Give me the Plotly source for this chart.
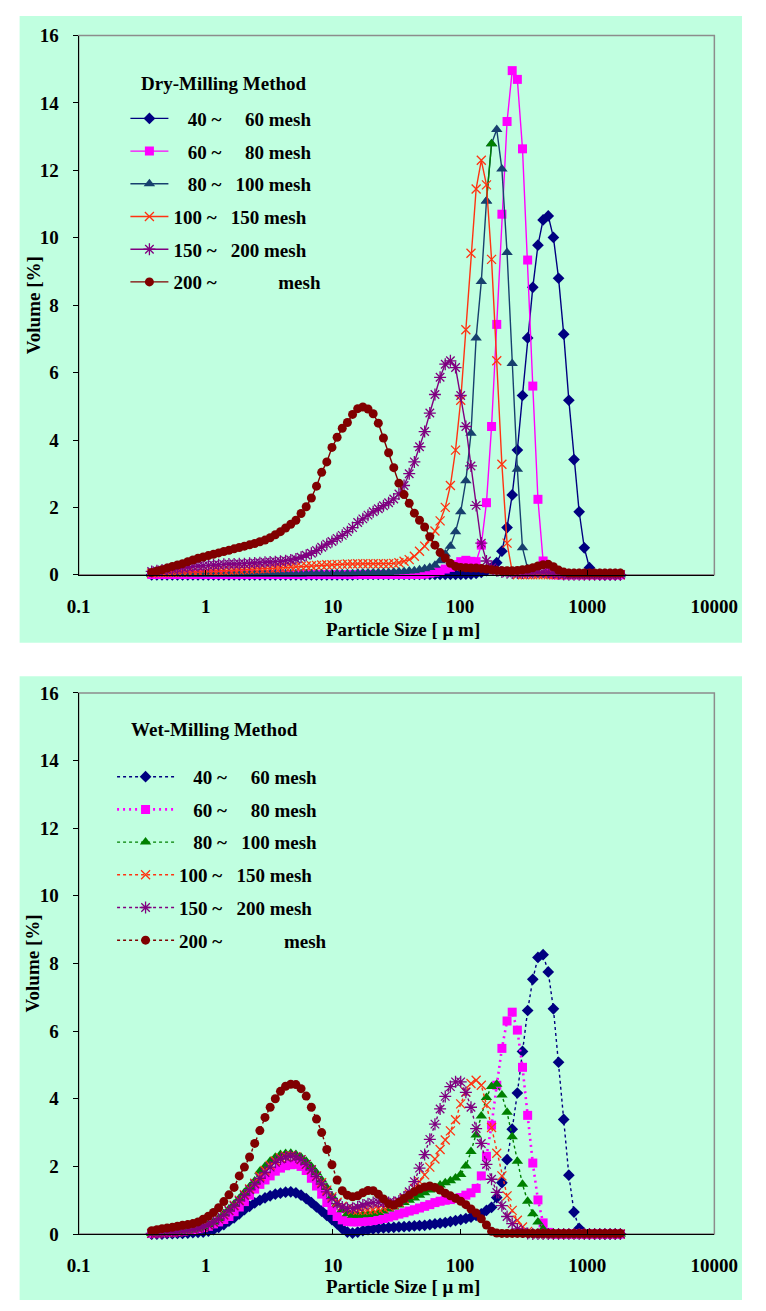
import plotly.graph_objects as go

# ---------------- data ----------------
sizes = [0.375, 0.412, 0.452, 0.496, 0.545, 0.598, 0.656, 0.721, 0.791, 0.868,
         0.953, 1.047, 1.149, 1.261, 1.385, 1.520, 1.669, 1.832, 2.011, 2.208,
         2.423, 2.660, 2.920, 3.206, 3.519, 3.863, 4.241, 4.656, 5.111, 5.611,
         6.159, 6.761, 7.422, 8.148, 8.944, 9.819, 10.78, 11.83, 12.99, 14.26,
         15.65, 17.18, 18.86, 20.71, 22.73, 24.95, 27.39, 30.07, 33.01, 36.24,
         39.78, 43.67, 47.94, 52.62, 57.77, 63.41, 69.61, 76.42, 83.89, 92.09,
         101.1, 111.0, 121.8, 133.7, 146.8, 161.2, 176.8, 194.2, 213.2, 234.1,
         256.9, 282.1, 309.6, 339.9, 373.1, 409.6, 449.7, 493.6, 541.9, 594.9,
         653.0, 716.8, 786.9, 863.9, 948.3, 1041, 1143, 1255, 1377, 1512,
         1660, 1822]

# Dry-milling method
dry_40_60 = [0, 0, 0, 0, 0, 0, 0, 0, 0, 0,
             0, 0, 0, 0, 0, 0, 0, 0, 0, 0,
             0, 0, 0, 0, 0, 0, 0, 0, 0, 0,
             0, 0, 0, 0, 0, 0, 0, 0, 0, 0,
             0.01, 0.01, 0.01, 0.01, 0.01, 0.01, 0.01, 0.01, 0.01, 0.01,
             0.01, 0.01, 0.01, 0.01, 0.01, 0.01, 0.01, 0.01, 0.01, 0.01,
             0.01, 0.02, 0.02, 0.04, 0.07, 0.12, 0.21, 0.36, 0.70, 1.40,
             2.37, 3.70, 5.32, 7.03, 8.53, 9.78, 10.53, 10.65, 10.01, 8.80,
             7.14, 5.18, 3.42, 1.87, 0.80, 0.21, 0.02, 0, 0, 0,
             0, 0]
dry_60_80 = [0.01, 0.01, 0.01, 0.01, 0.01, 0.01, 0.01, 0.01, 0.01, 0.01,
             0.01, 0.01, 0.01, 0.01, 0.01, 0.01, 0.01, 0.01, 0.01, 0.01,
             0.01, 0.01, 0.01, 0.01, 0.01, 0.01, 0.01, 0.01, 0.01, 0.01,
             0.01, 0.01, 0.01, 0.01, 0.01, 0.01, 0.01, 0.01, 0.01, 0.01,
             0.01, 0.01, 0.01, 0.01, 0.01, 0.01, 0.01, 0.01, 0.01, 0.01,
             0.01, 0.01, 0.01, 0.02, 0.05, 0.08, 0.12, 0.17, 0.22, 0.30,
             0.39, 0.43, 0.40, 0.39, 0.88, 2.14, 4.40, 7.43, 10.70, 13.45,
             14.96, 14.70, 12.64, 9.34, 5.60, 2.24, 0.41, 0.05, 0, 0,
             0, 0, 0, 0, 0, 0, 0, 0, 0, 0,
             0, 0]
dry_80_100 = [0.01, 0.01, 0.01, 0.01, 0.01, 0.01, 0.01, 0.01, 0.01, 0.01,
              0.02, 0.02, 0.02, 0.02, 0.02, 0.02, 0.02, 0.02, 0.02, 0.02,
              0.02, 0.02, 0.02, 0.02, 0.02, 0.02, 0.02, 0.02, 0.02, 0.02,
              0.03, 0.03, 0.03, 0.03, 0.03, 0.03, 0.03, 0.03, 0.03, 0.03,
              0.04, 0.05, 0.05, 0.06, 0.06, 0.07, 0.07, 0.08, 0.09, 0.10,
              0.11, 0.12, 0.15, 0.18, 0.22, 0.28, 0.42, 0.62, 0.85, 1.28,
              1.87, 2.79, 4.20, 7.03, 8.70, 11.09, 12.79, 13.21, 12.04, 9.56,
              6.27, 3.13, 0.80, 0.18, 0.02, 0, 0, 0, 0, 0,
              0, 0, 0, 0, 0, 0, 0, 0, 0, 0,
              0, 0]
dry_100_150 = [0.05, 0.06, 0.06, 0.07, 0.07, 0.08, 0.08, 0.09, 0.10, 0.10,
               0.11, 0.11, 0.12, 0.12, 0.13, 0.14, 0.14, 0.15, 0.16, 0.16,
               0.17, 0.18, 0.18, 0.19, 0.20, 0.21, 0.22, 0.23, 0.24, 0.25,
               0.26, 0.27, 0.28, 0.29, 0.30, 0.30, 0.31, 0.31, 0.32, 0.32,
               0.33, 0.33, 0.33, 0.33, 0.33, 0.33, 0.33, 0.34, 0.36, 0.40,
               0.45, 0.55, 0.70, 0.85, 1.05, 1.30, 1.60, 2.00, 2.65, 3.70,
               5.18, 7.27, 9.54, 11.45, 12.30, 11.57, 9.36, 6.35, 3.28, 0.94,
               0.10, 0, 0, 0, 0, 0, 0, 0, 0, 0,
               0, 0, 0, 0, 0, 0, 0, 0, 0, 0,
               0, 0]
dry_150_200 = [0.10, 0.12, 0.14, 0.16, 0.18, 0.19, 0.21, 0.23, 0.25, 0.26,
               0.27, 0.28, 0.29, 0.30, 0.31, 0.32, 0.32, 0.33, 0.33, 0.34,
               0.35, 0.36, 0.37, 0.38, 0.39, 0.40, 0.42, 0.44, 0.47, 0.52,
               0.58, 0.64, 0.72, 0.82, 0.91, 0.99, 1.08, 1.17, 1.28, 1.40,
               1.55, 1.66, 1.77, 1.87, 1.96, 2.05, 2.14, 2.25, 2.40, 2.65,
               3.00, 3.35, 3.80, 4.25, 4.80, 5.35, 5.86, 6.25, 6.35, 6.15,
               5.32, 4.40, 3.23, 2.06, 0.94, 0.41, 0.21, 0.12, 0.08, 0.06,
               0.05, 0.05, 0.05, 0.06, 0.07, 0.08, 0.08, 0.07, 0.05, 0.03,
               0.01, 0, 0, 0, 0, 0, 0, 0, 0, 0,
               0, 0]
dry_200 = [0.07, 0.11, 0.15, 0.20, 0.25, 0.29, 0.33, 0.39, 0.44, 0.49,
           0.53, 0.57, 0.61, 0.65, 0.69, 0.73, 0.77, 0.81, 0.85, 0.89,
           0.93, 0.98, 1.03, 1.10, 1.19, 1.28, 1.39, 1.50, 1.62, 1.82,
           2.02, 2.28, 2.63, 3.04, 3.35, 3.78, 4.08, 4.35, 4.52, 4.76,
           4.93, 4.98, 4.92, 4.78, 4.50, 4.06, 3.62, 3.18, 2.72, 2.38,
           2.12, 1.83, 1.62, 1.42, 1.13, 0.88, 0.66, 0.50, 0.34, 0.25,
           0.22, 0.21, 0.20, 0.20, 0.19, 0.17, 0.15, 0.13, 0.12, 0.12,
           0.12, 0.13, 0.15, 0.17, 0.21, 0.26, 0.30, 0.31, 0.24, 0.14,
           0.08, 0.05, 0.05, 0.05, 0.05, 0.05, 0.05, 0.05, 0.05, 0.05,
           0.05, 0.05]

# Wet-milling method
wet_40_60 = [0, 0, 0, 0.01, 0.01, 0.02, 0.02, 0.03, 0.04, 0.05,
             0.06, 0.09, 0.13, 0.20, 0.28, 0.38, 0.48, 0.60, 0.72, 0.82,
             0.92, 1.00, 1.07, 1.13, 1.18, 1.21, 1.24, 1.25, 1.22, 1.15,
             1.05, 0.93, 0.80, 0.68, 0.55, 0.43, 0.30, 0.16, 0.06, 0.03,
             0.06, 0.10, 0.13, 0.15, 0.17, 0.18, 0.19, 0.20, 0.21, 0.22,
             0.23, 0.24, 0.25, 0.26, 0.28, 0.30, 0.32, 0.34, 0.37, 0.40,
             0.43, 0.46, 0.50, 0.55, 0.60, 0.70, 0.79, 1.08, 1.52, 2.20,
             3.10, 4.17, 5.40, 6.61, 7.53, 8.18, 8.26, 7.75, 6.66, 5.08,
             3.39, 1.74, 0.65, 0.17, 0.02, 0, 0, 0, 0, 0,
             0, 0]
wet_60_80 = [0.02, 0.03, 0.04, 0.05, 0.06, 0.07, 0.09, 0.11, 0.13, 0.16,
             0.19, 0.23, 0.30, 0.36, 0.43, 0.52, 0.66, 0.80, 0.96, 1.15,
             1.33, 1.47, 1.60, 1.72, 1.86, 1.95, 2.02, 2.05, 2.06, 2.00,
             1.88, 1.65, 1.42, 1.18, 0.93, 0.70, 0.52, 0.42, 0.37, 0.36,
             0.36, 0.37, 0.38, 0.40, 0.43, 0.46, 0.50, 0.54, 0.59, 0.63,
             0.68, 0.72, 0.77, 0.82, 0.87, 0.93, 0.97, 1.00, 1.02, 1.05,
             1.08, 1.15, 1.22, 1.35, 1.72, 2.30, 3.22, 4.40, 5.49, 6.30,
             6.56, 6.03, 4.93, 3.51, 2.10, 1.01, 0.33, 0.05, 0, 0,
             0, 0, 0, 0, 0, 0, 0, 0, 0, 0,
             0, 0]
wet_80_100 = [0.02, 0.03, 0.04, 0.05, 0.06, 0.07, 0.09, 0.11, 0.14, 0.17,
              0.21, 0.28, 0.36, 0.46, 0.60, 0.74, 0.89, 1.05, 1.23, 1.40,
              1.57, 1.86, 2.00, 2.15, 2.27, 2.35, 2.38, 2.39, 2.35, 2.27,
              2.15, 2.00, 1.81, 1.60, 1.38, 1.12, 0.89, 0.72, 0.60, 0.56,
              0.56, 0.57, 0.58, 0.61, 0.64, 0.68, 0.74, 0.80, 0.86, 0.93,
              1.00, 1.07, 1.15, 1.22, 1.30, 1.38, 1.45, 1.52, 1.58, 1.66,
              1.76, 2.01, 2.44, 2.93, 3.49, 4.04, 4.36, 4.43, 4.11, 3.60,
              2.88, 2.15, 1.47, 0.97, 0.60, 0.36, 0.15, 0.04, 0, 0,
              0, 0, 0, 0, 0, 0, 0, 0, 0, 0,
              0, 0]
wet_100_150 = [0.02, 0.03, 0.04, 0.05, 0.06, 0.07, 0.09, 0.11, 0.14, 0.17,
               0.21, 0.27, 0.35, 0.45, 0.57, 0.70, 0.85, 1.00, 1.16, 1.33,
               1.50, 1.70, 1.88, 2.03, 2.16, 2.25, 2.30, 2.32, 2.29, 2.20,
               2.06, 1.90, 1.72, 1.52, 1.30, 1.10, 0.94, 0.82, 0.75, 0.71,
               0.70, 0.70, 0.71, 0.72, 0.75, 0.78, 0.82, 0.88, 0.95, 1.05,
               1.18, 1.35, 1.55, 1.75, 1.98, 2.22, 2.50, 2.78, 3.05, 3.38,
               3.85, 4.20, 4.45, 4.55, 4.40, 3.82, 3.15, 2.39, 1.72, 1.13,
               0.70, 0.41, 0.21, 0.08, 0.02, 0, 0, 0, 0, 0,
               0, 0, 0, 0, 0, 0, 0, 0, 0, 0,
               0, 0]
wet_150_200 = [0.02, 0.03, 0.04, 0.05, 0.06, 0.07, 0.09, 0.11, 0.14, 0.17,
               0.21, 0.27, 0.35, 0.45, 0.56, 0.69, 0.83, 0.98, 1.14, 1.31,
               1.48, 1.65, 1.82, 1.98, 2.12, 2.22, 2.28, 2.30, 2.28, 2.20,
               2.06, 1.90, 1.70, 1.48, 1.25, 1.05, 0.90, 0.80, 0.76, 0.76,
               0.80, 0.86, 0.90, 0.93, 0.94, 0.93, 0.93, 0.94, 0.98, 1.08,
               1.25, 1.55, 1.95, 2.35, 2.80, 3.25, 3.70, 4.07, 4.36, 4.50,
               4.50, 4.19, 3.75, 3.12, 2.68, 2.06, 1.62, 1.23, 0.84, 0.52,
               0.31, 0.15, 0.06, 0.02, 0, 0, 0, 0, 0, 0,
               0, 0, 0, 0, 0, 0, 0, 0, 0, 0,
               0, 0]
wet_200 = [0.10, 0.13, 0.16, 0.18, 0.20, 0.23, 0.26, 0.28, 0.31, 0.36,
           0.44, 0.53, 0.64, 0.78, 0.96, 1.16, 1.38, 1.72, 1.98, 2.28,
           2.68, 3.06, 3.45, 3.75, 4.00, 4.22, 4.37, 4.43, 4.42, 4.30,
           4.08, 3.75, 3.40, 3.00, 2.50, 2.05, 1.60, 1.28, 1.15, 1.10,
           1.13, 1.22, 1.29, 1.28, 1.18, 1.04, 0.90, 0.86, 0.93, 1.05,
           1.15, 1.25, 1.33, 1.39, 1.42, 1.38, 1.30, 1.21, 1.13, 1.06,
           0.97, 0.87, 0.74, 0.62, 0.45, 0.27, 0.08, 0.03, 0.02, 0.02,
           0.02, 0.02, 0.02, 0.02, 0.02, 0.02, 0.02, 0.02, 0.02, 0.02,
           0.02, 0.02, 0.02, 0.02, 0.02, 0.02, 0.02, 0.02, 0.02, 0.02,
           0.02, 0.02]

NB = "\u00a0"
series_labels = [NB * 3 + "40" + NB + "~" + NB * 5 + "60" + NB + "mesh",
                 NB * 3 + "60" + NB + "~" + NB * 5 + "80" + NB + "mesh",
                 NB * 3 + "80" + NB + "~" + NB * 3 + "100" + NB + "mesh",
                 "100" + NB + "~" + NB * 3 + "150" + NB + "mesh",
                 "150" + NB + "~" + NB * 3 + "200" + NB + "mesh",
                 "200" + NB + "~" + NB * 13 + "mesh"]
x_tick_vals = [0.1, 1, 10, 100, 1000, 10000]
x_tick_text = ["0.1", "1", "10", "100", "1000", "10000"]
y_tick_vals = [0, 2, 4, 6, 8, 10, 12, 14, 16]

dry_series = [dry_40_60, dry_60_80, dry_80_100, dry_100_150, dry_150_200, dry_200]
wet_series = [wet_40_60, wet_60_80, wet_80_100, wet_100_150, wet_150_200, wet_200]

# ---------------- style ----------------
W, H = 766, 1311
BG = "#C0FFE0"
FONT = "Liberation Serif"
dry_colors = ["#000080", "#FF00FF", "#17406E", "#FF3311", "#800080", "#800000"]
wet_colors = ["#000080", "#FF00FF", "#008000", "#FF3311", "#800080", "#800000"]
symbols = ["diamond", "square", "triangle-up", "x-thin-open", "asterisk-open", "circle"]
msizes = [9, 9, 10, 9, 10, 9]


def fx(p):
    return p / W


def fy(p):
    return 1 - p / H


def marker(sym, size, color):
    if sym.endswith("-open"):
        return dict(symbol=sym, size=size, color=color, line=dict(width=1.3, color=color))
    return dict(symbol=sym, size=size, color=color, line=dict(width=0))


fig = go.Figure()

for i, (vals, lab) in enumerate(zip(dry_series, series_labels)):
    fig.add_trace(go.Scatter(
        x=sizes, y=vals, name=lab, mode="lines+markers",
        line=dict(color=dry_colors[i], width=1.4),
        marker=marker(symbols[i], msizes[i], dry_colors[i]),
        xaxis="x", yaxis="y", legend="legend", legendgroup="d%d" % i,
        cliponaxis=False))
    if i == 2:
        # short green segment with one green marker seen in the dry chart
        fig.add_trace(go.Scatter(
            x=sizes[65:67], y=dry_80_100[65:67], mode="lines+markers",
            line=dict(color="#008000", width=1.4),
            marker=dict(symbol="triangle-up", size=10, color=[dry_colors[2], "#008000"]),
            xaxis="x", yaxis="y", showlegend=False, cliponaxis=False))

for i, (vals, lab) in enumerate(zip(wet_series, series_labels)):
    pink = (i == 1)
    fig.add_trace(go.Scatter(
        x=sizes, y=vals, name=lab, mode="lines+markers",
        line=dict(color=wet_colors[i], width=2.6 if pink else 1.4,
                  dash="2px,4px" if pink else "3px,3px"),
        marker=marker(symbols[i], msizes[i], wet_colors[i]),
        xaxis="x2", yaxis="y2", legend="legend2", legendgroup="w%d" % i,
        cliponaxis=False))

tickfont = dict(family=FONT, size=19, color="black", weight="bold")
xcommon = dict(type="log", range=[-1, 4], tickvals=x_tick_vals, ticktext=x_tick_text,
               ticks="inside", ticklen=5, tickwidth=1, tickcolor="black",
               showline=True, linecolor="black", linewidth=1.3,
               showgrid=False, zeroline=False, tickfont=tickfont,
               ticklabelstandoff=14, domain=[fx(70), fx(737)])
ycommon = dict(range=[0, 16], tickvals=y_tick_vals, ticks="outside", ticklen=5,
               tickwidth=1, tickcolor="black", showline=True, linecolor="black",
               linewidth=1.3, showgrid=False, zeroline=False, tickfont=tickfont,
               ticklabelstandoff=10)

legend_common = dict(bgcolor="rgba(0,0,0,0)", borderwidth=0,
                     font=dict(family=FONT, size=19, color="black", weight="bold"),
                     traceorder="grouped", tracegroupgap=5,
                     xanchor="left", yanchor="top")

shapes = [
    dict(type="rect", xref="paper", yref="paper", x0=fx(8), x1=1, y0=fy(643), y1=fy(6),
         fillcolor=BG, line=dict(width=0), layer="below"),
    dict(type="rect", xref="paper", yref="paper", x0=fx(8), x1=1, y0=fy(1311), y1=fy(677),
         fillcolor=BG, line=dict(width=0), layer="below"),
    dict(type="rect", xref="x domain", yref="y domain", x0=0, x1=1, y0=0, y1=1,
         line=dict(color="#8C8C8C", width=1.5), layer="below"),
    dict(type="rect", xref="x2 domain", yref="y2 domain", x0=0, x1=1, y0=0, y1=1,
         line=dict(color="#8C8C8C", width=1.5), layer="below"),
]

title_font = dict(family=FONT, size=19, color="black", weight="bold")
annotations = [
    dict(text="Dry-Milling Method", x=fx(133), y=fy(75), xref="paper", yref="paper",
         xanchor="left", yanchor="middle", showarrow=False, font=title_font),
    dict(text="Wet-Milling Method", x=fx(123), y=fy(731), xref="paper", yref="paper",
         xanchor="left", yanchor="middle", showarrow=False, font=title_font),
    dict(text="Volume [%]", x=fx(22), y=fy(300), xref="paper", yref="paper",
         xanchor="center", yanchor="middle", textangle=-90, showarrow=False, font=title_font),
    dict(text="Volume [%]", x=fx(22), y=fy(969), xref="paper", yref="paper",
         xanchor="center", yanchor="middle", textangle=-90, showarrow=False, font=title_font),
    dict(text="Particle Size [ \u03bc m]", x=fx(410), y=fy(630), xref="paper", yref="paper",
         xanchor="center", yanchor="middle", showarrow=False, font=title_font),
    dict(text="Particle Size [ \u03bc m]", x=fx(410), y=fy(1297), xref="paper", yref="paper",
         xanchor="center", yanchor="middle", showarrow=False, font=title_font),
]

fig.update_layout(
    width=W, height=H,
    margin=dict(l=0, r=0, t=0, b=0),
    paper_bgcolor="white", plot_bgcolor=BG,
    font=dict(family=FONT, size=19, color="black", weight="bold"),
    xaxis=dict(xcommon, anchor="y"),
    yaxis=dict(ycommon, anchor="x", domain=[fy(574), fy(26)]),
    xaxis2=dict(xcommon, anchor="y2"),
    yaxis2=dict(ycommon, anchor="x2", domain=[fy(1244), fy(694)]),
    legend=dict(legend_common, x=fx(119), y=fy(91), itemwidth=38),
    legend2=dict(legend_common, x=fx(105), y=fy(760), itemwidth=57),
    shapes=shapes,
    annotations=annotations,
    showlegend=True,
)

fig.write_html("out.html",
               config={"displayModeBar": False, "responsive": False},
               post_script="document.body.style.margin='0';"
                           "document.body.style.overflow='hidden';")
